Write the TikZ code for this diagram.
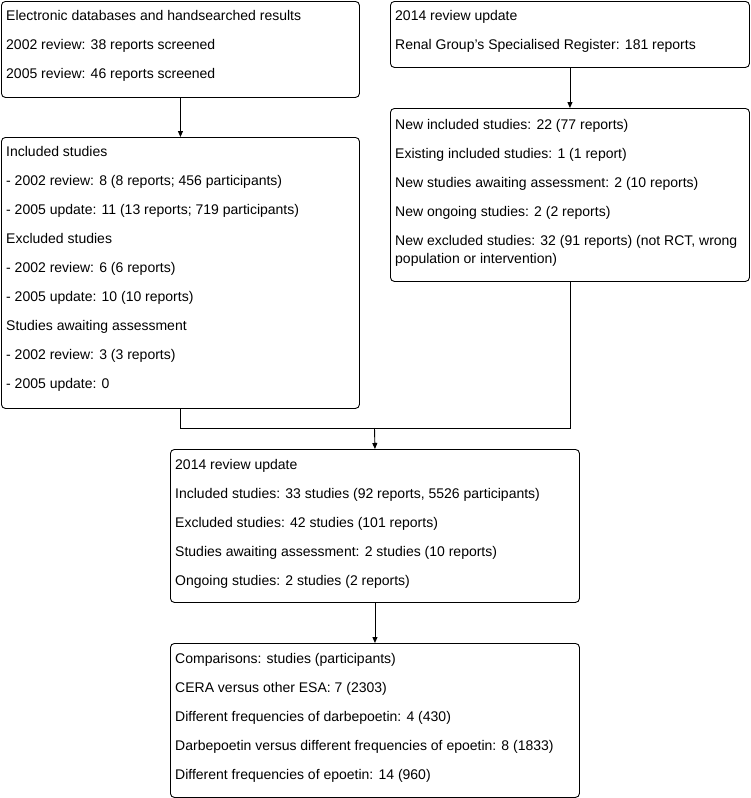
\documentclass[tikz,border=0pt]{standalone}
\usepackage{fontspec}
\setmainfont{Liberation Sans}
\usetikzlibrary{arrows.meta}
\tikzset{
  box/.style={draw=black, line width=0.9pt, rounded corners=4pt, anchor=north west, inner sep=0pt},
  txt/.style={anchor=north west, yshift=20.3pt, inner sep=0pt, align=left, font=\fontsize{14}{29}\selectfont},
  conn/.style={draw=black, line width=0.9pt},
  arr/.style={conn, -{Triangle[length=6pt,width=5pt]}}
}
\begin{document}
\begin{tikzpicture}[x=1pt,y=-1pt]
\useasboundingbox (0,0) rectangle (750,798);
\node[box, minimum width=358pt, minimum height=96pt] (b1) at (1,1) {};
\node[box, minimum width=359pt, minimum height=66pt] (b2) at (390,1) {};
\node[box, minimum width=358pt, minimum height=271pt] (b3) at (1,137) {};
\node[box, minimum width=359pt, minimum height=173pt] (b4) at (390,108) {};
\node[box, minimum width=409pt, minimum height=153pt] (b5) at (170,449) {};
\node[box, minimum width=409pt, minimum height=154pt] (b6) at (170,643) {};

\node[txt] (t1) at (6,20) {\strut Electronic databases and handsearched results\\2002 review: 38 reports screened\\2005 review: 46 reports screened};
\node[txt] (t2) at (395,20) {\strut 2014 review update\\Renal Group's Specialised Register: 181 reports};
\node[txt] (t3) at (6,156) {\strut Included studies\\- 2002 review: 8 (8 reports; 456 participants)\\- 2005 update: 11 (13 reports; 719 participants)\\Excluded studies\\- 2002 review: 6 (6 reports)\\- 2005 update: 10 (10 reports)\\Studies awaiting assessment\\- 2002 review: 3 (3 reports)\\- 2005 update: 0};
\node[txt] (t4) at (395,129) {\strut New included studies: 22 (77 reports)\\Existing included studies: 1 (1 report)\\New studies awaiting assessment: 2 (10 reports)\\New ongoing studies: 2 (2 reports)\\New excluded studies: 32 (91 reports) (not RCT, wrong\\[-11pt]population or intervention)};
\node[txt] (t5) at (175,469) {\strut 2014 review update\\Included studies: 33 studies (92 reports, 5526 participants)\\Excluded studies: 42 studies (101 reports)\\Studies awaiting assessment: 2 studies (10 reports)\\Ongoing studies: 2 studies (2 reports)};
\node[txt] (t6) at (175,663) {\strut Comparisons: studies (participants)\\CERA versus other ESA: 7 (2303)\\Different frequencies of darbepoetin: 4 (430)\\Darbepoetin versus different frequencies of epoetin: 8 (1833)\\Different frequencies of epoetin: 14 (960)};

\coordinate (j) at (374.5,428);
\draw[arr] (b1.south) -- (b3.north);
\draw[arr] (b2.south) -- (b4.north);
\draw[conn] (b3.south) |- (j);
\draw[conn] (b4.south) |- (j);
\draw[arr] (j) -- (b5.north);
\draw[arr] (b5.south) -- (b6.north);
\end{tikzpicture}
\end{document}
